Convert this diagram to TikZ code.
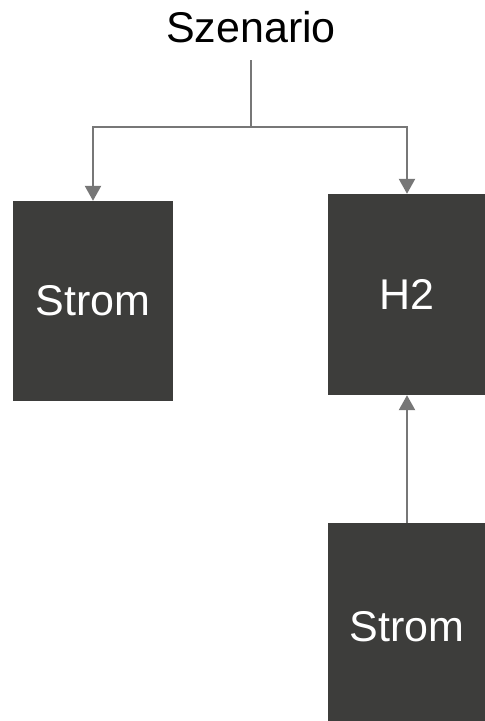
\documentclass[tikz,border=0pt]{standalone}
\usepackage{fontspec}
\setmainfont{Liberation Sans}
\usetikzlibrary{arrows.meta}
\definecolor{boxfill}{HTML}{3D3D3B}
\definecolor{linegray}{HTML}{777777}
\tikzset{
  darkbox/.style={fill=boxfill, draw=none, text=white, inner sep=0pt, font=\fontsize{43}{51}\selectfont},
  conn/.style={draw=linegray, line width=2.4pt, -{Triangle[width=16pt,length=15pt]}},
  plainline/.style={draw=linegray, line width=2.4pt},
}
\begin{document}
\begin{tikzpicture}[x=1pt,y=-1pt]
\useasboundingbox (0,0) rectangle (485,721);
\node[font=\fontsize{43}{51}\selectfont] (szen) at (251,27) {Szenario};
\node[darkbox, minimum width=160pt, minimum height=200pt] (box1) at (93,301) {Strom};
\node[darkbox, minimum width=158pt, minimum height=201pt] (box2) at (407,294.5) {H2};
\node[darkbox, minimum width=158pt, minimum height=198pt] (box3) at (407,622) {};
\node[text=white, font=\fontsize{43}{51}\selectfont] (t3) at (407,627) {Strom};
\coordinate (top) at (251,60);
\coordinate (fork) at (251,127);
\draw[plainline] (top) -- (fork);
\draw[conn] (fork) -| (box1.north);
\draw[conn] (fork) -| (box2.north);
\draw[conn] (box3.north) -- (box2.south);
\end{tikzpicture}
\end{document}
